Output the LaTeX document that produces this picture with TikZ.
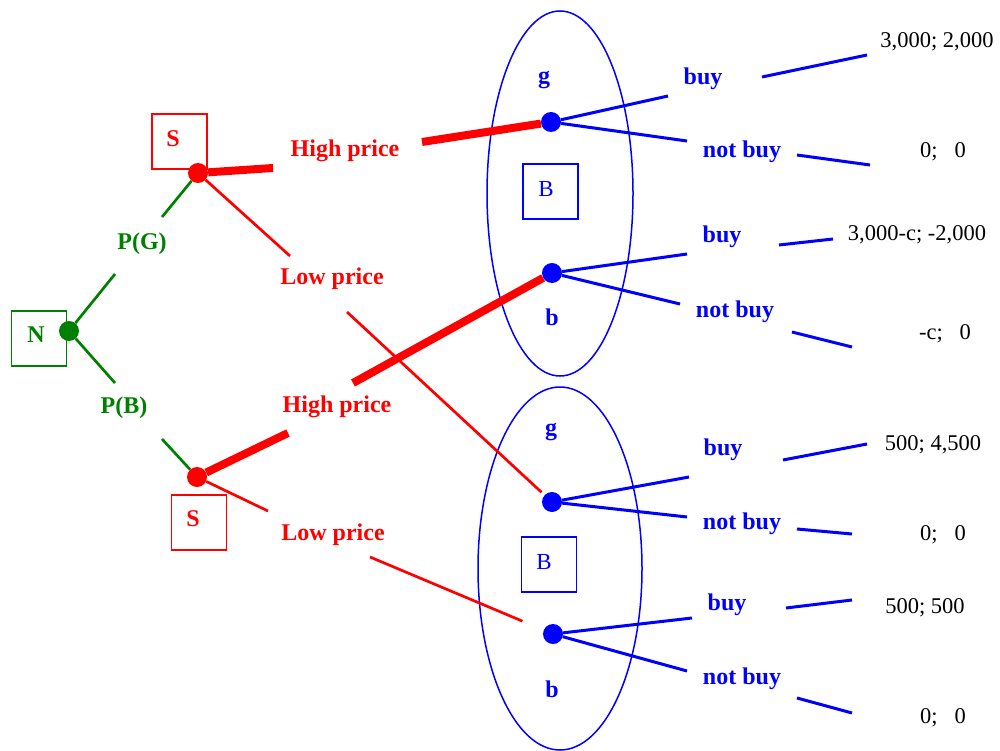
\documentclass[tikz,border=0pt]{standalone}
\usepackage{fontspec}
\setmainfont{Liberation Serif}
\usetikzlibrary{shapes.geometric}
\definecolor{mygreen}{RGB}{0,128,0}
\begin{document}
\begin{tikzpicture}[x=1pt,y=-1pt,
  dot/.style={circle,fill,inner sep=0pt,minimum size=20pt},
  boxs/.style={draw,line width=1.3pt,minimum width=55pt,minimum height=55pt,inner sep=0pt},
  lab/.style={font=\fontsize{24}{28}\selectfont\bfseries,inner sep=0pt,yshift=-2pt},
  reg/.style={font=\fontsize{23}{27}\selectfont,inner sep=0pt,yshift=-2pt},
  pay/.style={font=\fontsize{22.5}{27}\selectfont,inner sep=0pt,text=black,yshift=-2pt},
  thinred/.style={red,line width=2.7pt},
  thickred/.style={red,line width=8pt},
  bl/.style={blue,line width=3pt},
  gr/.style={mygreen,line width=2.7pt},
  info/.style={draw=blue,line width=1.5pt,ellipse,inner sep=0pt}]
\useasboundingbox (0,0) rectangle (1000,751);

% information sets
\node[info,minimum width=146pt,minimum height=365pt] (I1) at (560,193.5) {};
\node[info,minimum width=164pt,minimum height=363pt] (I2) at (560,568.5) {};

% boxes
\node[boxs,draw=mygreen] (boxN) at (39,338.5) {};
\node[lab,mygreen] (tN) at (36,333) {N};
\node[boxs,draw=red] (boxS1) at (179.5,141.5) {};
\node[lab,red] (tS1) at (173,137) {S};
\node[boxs,draw=red] (boxS2) at (199,522.5) {};
\node[lab,red] (tS2) at (193,517) {S};
\node[boxs,draw=blue] (boxB1) at (550.5,191.5) {};
\node[reg,blue] (tB1) at (546,187) {B};
\node[boxs,draw=blue] (boxB2) at (549,564.5) {};
\node[reg,blue] (tB2) at (544,560) {B};

% decision nodes
\node[dot,mygreen] (N) at (69,331) {};
\node[dot,red] (S1) at (198,173) {};
\node[dot,red] (S2) at (197,477) {};
\node[dot,blue] (g1) at (551,122) {};
\node[dot,blue] (b1) at (552,273) {};
\node[dot,blue] (g2) at (552,502) {};
\node[dot,blue] (b2) at (553,634) {};

% break points
\coordinate (gA1) at (115,274); \coordinate (gA2) at (162,217);
\coordinate (gB1) at (115,383); \coordinate (gB2) at (162,439);
\coordinate (rA1) at (273,168); \coordinate (rA2) at (422,142);
\coordinate (rB1) at (290,256); \coordinate (rB2) at (347,312);
\coordinate (rC1) at (288,433); \coordinate (rC2) at (353,383);
\coordinate (rD1) at (268,511); \coordinate (rD2) at (370,557);

% green
\draw[gr] (N) -- (gA1); \draw[gr] (gA2) -- (S1);
\draw[gr] (N) -- (gB1); \draw[gr] (gB2) -- (S2);
% red
\draw[thickred] (S1) -- (rA1); \draw[thickred] (rA2) -- (g1);
\draw[thinred] (S1) -- (rB1); \draw[thinred,shorten >=4pt] (rB2) -- (g2);
\draw[thickred] (S2) -- (rC1); \draw[thickred] (rC2) -- (b1);
\draw[thinred] (S2) -- (rD1); \draw[thinred,shorten >=23pt] (rD2) -- (b2);

% blue
\coordinate (e1) at (867,55);  \coordinate (e2) at (870,165);
\coordinate (e3) at (833,239); \coordinate (e4) at (852,347);
\coordinate (e5) at (867,444); \coordinate (e6) at (852,534);
\coordinate (e7) at (852,600); \coordinate (e8) at (852,713);
\draw[bl] (g1) -- (668,96);  \draw[bl] (762,77) -- (e1);
\draw[bl] (g1) -- (687,141); \draw[bl] (797,155) -- (e2);
\draw[bl] (b1) -- (687,254); \draw[bl] (779,245) -- (e3);
\draw[bl] (b1) -- (680,304); \draw[bl] (792,332) -- (e4);
\draw[bl] (g2) -- (689,477); \draw[bl] (783,460) -- (e5);
\draw[bl] (g2) -- (687,517); \draw[bl] (797,529) -- (e6);
\draw[bl] (b2) -- (692,618); \draw[bl] (786,608) -- (e7);
\draw[bl] (b2) -- (687,671); \draw[bl] (797,698) -- (e8);

% labels
\node[lab,mygreen] (lPG) at (142,242) {P(G)};
\node[lab,mygreen] (lPB) at (124,406) {P(B)};
\node[lab,red] (lH1) at (345,149) {High price};
\node[lab,red] (lL1) at (332,277) {Low price};
\node[lab,red] (lH2) at (337,405) {High price};
\node[lab,red] (lL2) at (333,533) {Low price};
\node[lab,blue] (lg1) at (544,78) {g};
\node[lab,blue] (lb1) at (552,315) {b};
\node[lab,blue] (lg2) at (551,430) {g};
\node[lab,blue] (lb2) at (552,687) {b};
\node[lab,blue] at (703,77) {buy};
\node[lab,blue] at (742,150) {not buy};
\node[lab,blue] at (722,235) {buy};
\node[lab,blue] at (735,310) {not buy};
\node[lab,blue] at (723,448) {buy};
\node[lab,blue] at (742,522) {not buy};
\node[lab,blue] at (727,603) {buy};
\node[lab,blue] at (742,677) {not buy};

% payoffs
\node[pay] at (937,40) {3,000; 2,000};
\node[pay] at (943,150) {0;\hspace{0.75em}0};
\node[pay] at (917,233) {3,000-c; -2,000};
\node[pay] at (945,332) {-c;\hspace{0.75em}0};
\node[pay] at (933,443) {500; 4,500};
\node[pay] at (943,533) {0;\hspace{0.75em}0};
\node[pay] at (925,606) {500; 500};
\node[pay] at (943,716) {0;\hspace{0.75em}0};
\end{tikzpicture}
\end{document}
